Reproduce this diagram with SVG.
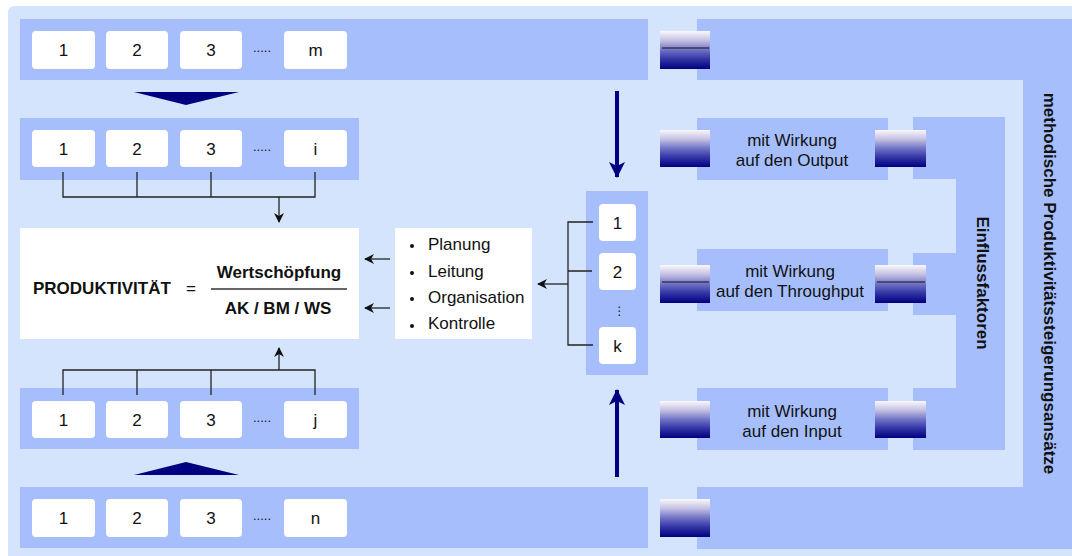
<svg xmlns="http://www.w3.org/2000/svg" width="1072" height="556" viewBox="0 0 1072 556">
<style>
.bg{fill:#d4e4fd}
.band{fill:#a6bffc}
.box{fill:#ffffff}
.t{font-family:"Liberation Sans",Arial,sans-serif;font-size:17px;fill:#111}
.b{font-weight:bold}
.c{text-anchor:middle}
.ln{stroke:#222;stroke-width:1.3;fill:none}
.nv{stroke:#000080;stroke-width:4;fill:none}
</style>
<defs>
<linearGradient id="gr" x1="0" y1="0" x2="0" y2="1">
<stop offset="0" stop-color="#faf8fc"/>
<stop offset="0.25" stop-color="#c4c0e2"/>
<stop offset="0.5" stop-color="#7072c6"/>
<stop offset="0.75" stop-color="#3032a4"/>
<stop offset="1" stop-color="#000080"/>
</linearGradient>
<marker id="ah" viewBox="0 0 10 10" refX="9" refY="5" markerWidth="10" markerHeight="10" markerUnits="userSpaceOnUse" orient="auto">
<path d="M0,0 L10,5 L0,10 L3,5 Z" fill="#111"/>
</marker>
<marker id="nh" viewBox="0 0 16 16" refX="15" refY="8" markerWidth="16" markerHeight="16" markerUnits="userSpaceOnUse" orient="auto">
<path d="M0,0 L16,8 L0,16 L4,8 Z" fill="#000080"/>
</marker>
</defs>
<rect x="0" y="0" width="1072" height="556" fill="#ffffff"/>
<rect class="bg" x="8" y="6" width="1080" height="560" rx="6"/>

<g id="methodische">
<path class="band" d="M697,19 H1072 V549 H697 V487 H1023 V80 H697 Z"/>
<text class="t b c" transform="translate(1050,283.5) rotate(90)" x="0" y="6">methodische Produktivitätssteigerungsansätze</text>
</g>

<g id="einflussfaktoren">
<path class="band" d="M913,117 H1005 V450 H913 V388 H956 V315 H913 V253 H956 V179 H913 Z"/>
<text class="t b c" transform="translate(983,283) rotate(90)" x="0" y="6">Einflussfaktoren</text>
</g>

<g id="row-m">
<rect class="band" x="20" y="19" width="628" height="61"/>
<rect class="box" x="32" y="31" width="63" height="38" rx="4"/>
<rect class="box" x="106" y="31" width="62" height="38" rx="4"/>
<rect class="box" x="180" y="31" width="62" height="38" rx="4"/>
<rect class="box" x="284" y="31" width="63" height="38" rx="4"/>
<text class="t c" x="63.5" y="56">1</text>
<text class="t c" x="137" y="56">2</text>
<text class="t c" x="211" y="56">3</text>
<text class="t c" x="262" y="52" style="font-size:13px">.....</text>
<text class="t c" x="315.5" y="56">m</text>
</g>

<g id="row-i">
<rect class="band" x="20" y="118" width="339" height="62"/>
<rect class="box" x="32" y="130" width="63" height="37" rx="4"/>
<rect class="box" x="106" y="130" width="62" height="37" rx="4"/>
<rect class="box" x="180" y="130" width="62" height="37" rx="4"/>
<rect class="box" x="284" y="130" width="63" height="37" rx="4"/>
<text class="t c" x="63.5" y="154.5">1</text>
<text class="t c" x="137" y="154.5">2</text>
<text class="t c" x="211" y="154.5">3</text>
<text class="t c" x="262" y="150.5" style="font-size:13px">.....</text>
<text class="t c" x="315.5" y="154.5">i</text>
</g>

<g id="row-j">
<rect class="band" x="20" y="388" width="339" height="61"/>
<rect class="box" x="32" y="401" width="63" height="37" rx="4"/>
<rect class="box" x="106" y="401" width="62" height="37" rx="4"/>
<rect class="box" x="180" y="401" width="62" height="37" rx="4"/>
<rect class="box" x="284" y="401" width="63" height="37" rx="4"/>
<text class="t c" x="63.5" y="425.5">1</text>
<text class="t c" x="137" y="425.5">2</text>
<text class="t c" x="211" y="425.5">3</text>
<text class="t c" x="262" y="421.5" style="font-size:13px">.....</text>
<text class="t c" x="315.5" y="425.5">j</text>
</g>

<g id="row-n">
<rect class="band" x="20" y="487" width="628" height="61"/>
<rect class="box" x="32" y="499" width="63" height="38" rx="4"/>
<rect class="box" x="106" y="499" width="62" height="38" rx="4"/>
<rect class="box" x="180" y="499" width="62" height="38" rx="4"/>
<rect class="box" x="284" y="499" width="63" height="38" rx="4"/>
<text class="t c" x="63.5" y="524">1</text>
<text class="t c" x="137" y="524">2</text>
<text class="t c" x="211" y="524">3</text>
<text class="t c" x="262" y="520" style="font-size:13px">.....</text>
<text class="t c" x="315.5" y="524">n</text>
</g>

<g id="formula">
<rect class="box" x="20" y="228" width="339" height="111"/>
<text class="t b" x="33" y="294">PRODUKTIVITÄT</text>
<text class="t c" x="191" y="294">=</text>
<text class="t b c" x="279" y="278">Wertschöpfung</text>
<line x1="211" y1="289" x2="347" y2="289" stroke="#666" stroke-width="2"/>
<text class="t b c" x="278" y="314">AK / BM / WS</text>
</g>

<g id="functions">
<rect class="box" x="395" y="228" width="137" height="111"/>
<circle cx="412" cy="246" r="2" fill="#111"/>
<circle cx="412" cy="273" r="2" fill="#111"/>
<circle cx="412" cy="299" r="2" fill="#111"/>
<circle cx="412" cy="326" r="2" fill="#111"/>
<text class="t" x="428" y="250">Planung</text>
<text class="t" x="428" y="277">Leitung</text>
<text class="t" x="428" y="303">Organisation</text>
<text class="t" x="428" y="329">Kontrolle</text>
</g>

<g id="col-k">
<rect class="band" x="586" y="191" width="62" height="184"/>
<rect class="box" x="599" y="204" width="37" height="37" rx="4"/>
<rect class="box" x="599" y="253" width="37" height="37" rx="4"/>
<rect class="box" x="599" y="327" width="37" height="37" rx="4"/>
<text class="t c" x="617.5" y="228.5">1</text>
<text class="t c" x="617.5" y="277.5">2</text>
<text class="t c" x="619.5" y="315" style="font-size:12px;font-family:'DejaVu Sans',sans-serif">⋮</text>
<text class="t c" x="617.5" y="351.5">k</text>
</g>

<g id="output">
<rect class="band" x="697" y="118" width="191" height="62"/>
<rect x="660" y="130" width="50" height="37" fill="url(#gr)"/>
<rect x="875" y="130" width="51" height="37" fill="url(#gr)"/>
<text class="t c" x="792" y="146">mit Wirkung</text>
<text class="t c" x="792" y="166">auf den Output</text>
</g>

<g id="throughput">
<rect class="band" x="697" y="249" width="191" height="62"/>
<rect x="660" y="265" width="50" height="38" fill="url(#gr)"/>
<rect x="875" y="265" width="51" height="38" fill="url(#gr)"/>
<line x1="662" y1="282" x2="709" y2="282" stroke="#111" stroke-width="1"/>
<line x1="877" y1="282" x2="925" y2="282" stroke="#111" stroke-width="1"/>
<text class="t c" x="790" y="277">mit Wirkung</text>
<text class="t c" x="790" y="297">auf den Throughput</text>
</g>

<g id="input">
<rect class="band" x="697" y="388" width="191" height="62"/>
<rect x="660" y="401" width="50" height="37" fill="url(#gr)"/>
<rect x="875" y="401" width="51" height="37" fill="url(#gr)"/>
<text class="t c" x="792" y="417">mit Wirkung</text>
<text class="t c" x="792" y="437">auf den Input</text>
</g>

<g id="top-square">
<rect x="660" y="31" width="50" height="38" fill="url(#gr)"/>
<line x1="662" y1="48" x2="709" y2="48" stroke="#111" stroke-width="1"/>
</g>
<g id="bottom-square">
<rect x="660" y="499" width="50" height="38" fill="url(#gr)"/>
</g>

<g id="connectors">
<polygon points="134,92 239,92 186,105" fill="#000080"/>
<polygon points="134,475 239,475 186,462" fill="#000080"/>
<path class="ln" d="M63,172 V197 H315 V172 M137,172 V197 M211,172 V197"/>
<path class="ln" d="M279,197 V222" marker-end="url(#ah)"/>
<path class="ln" d="M63,395 V370 H315 V395 M137,395 V370 M211,395 V370"/>
<path class="ln" d="M279,370 V348" marker-end="url(#ah)"/>
<path class="ln" d="M390,259 H365" marker-end="url(#ah)"/>
<path class="ln" d="M390,308 H365" marker-end="url(#ah)"/>
<path class="ln" d="M593,222 H568 V345 H593 M568,271 H592"/>
<path class="ln" d="M568,284 H538" marker-end="url(#ah)"/>
<path class="nv" d="M617,91 V177" marker-end="url(#nh)"/>
<path class="nv" d="M617,477 V390" marker-end="url(#nh)"/>
</g>
</svg>
